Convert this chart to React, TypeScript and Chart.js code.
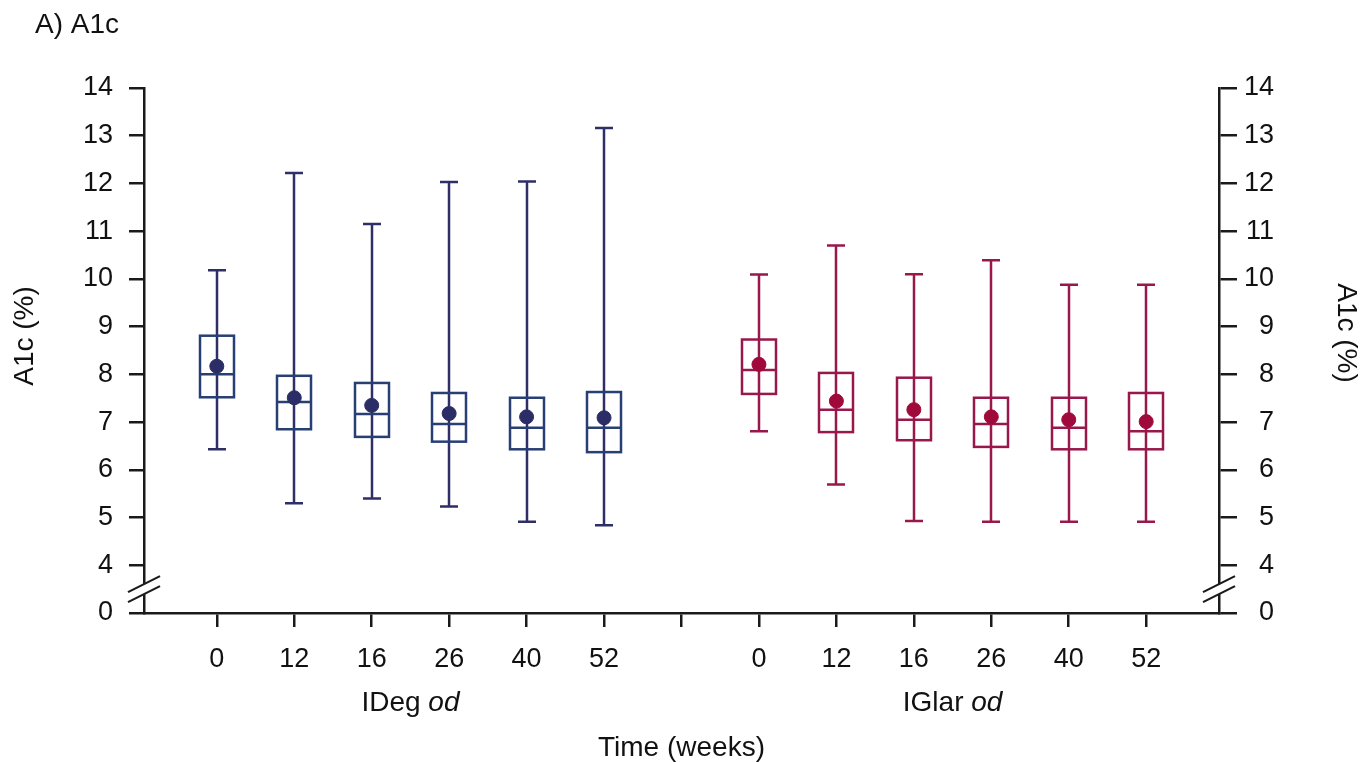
import React, { useEffect, useRef } from 'react';
import { Chart, registerables } from 'chart.js';

Chart.register(...registerables);

// ---------- data ----------
const weeks = ['0', '12', '16', '26', '40', '52'];
const groupNames = ['IDeg', 'IGlar'];
const groupSuffix = 'od';

const idegMean = [8.17, 7.51, 7.35, 7.18, 7.11, 7.09];
const idegMin = [6.43, 5.3, 5.4, 5.23, 4.91, 4.84];
const idegQ1 = [7.52, 6.85, 6.69, 6.59, 6.43, 6.37];
const idegMedian = [8.0, 7.42, 7.17, 6.96, 6.88, 6.88];
const idegQ3 = [8.81, 7.97, 7.82, 7.61, 7.51, 7.63];
const idegMax = [10.18, 12.22, 11.15, 12.03, 12.04, 13.16];

const iglarMean = [8.21, 7.44, 7.26, 7.11, 7.05, 7.01];
const iglarMin = [6.81, 5.69, 4.93, 4.91, 4.91, 4.91];
const iglarQ1 = [7.59, 6.79, 6.62, 6.48, 6.43, 6.43];
const iglarMedian = [8.09, 7.26, 7.05, 6.96, 6.88, 6.81];
const iglarQ3 = [8.73, 8.03, 7.93, 7.51, 7.51, 7.61];
const iglarMax = [10.09, 10.7, 10.1, 10.39, 9.88, 9.88];

// y axis: broken axis, the bottom tick (3) is labelled "0"
const yTickValues = [3, 4, 5, 6, 7, 8, 9, 10, 11, 12, 13, 14];
const yBreakLabel = '0';
const yMin = 3;
const yMax = 14;

// x positions: group 1 at 0..5, empty slot at 6, group 2 at 7..12
const xLabels = [...weeks, '', ...weeks];
const xPositions = xLabels.map((_, i) => i);
const idegX = weeks.map((_, i) => i);
const iglarX = weeks.map((_, i) => i + 7);

const FONT = "'Liberation Sans', Arial, Helvetica, sans-serif";
const AXIS = '#1a1a1a';
const TEXT = '#111111';
const NAVY_LINE = '#2d2f66';
const NAVY_BOX = '#283f74';
const NAVY_DOT = '#2b2d66';
const RED_LINE = '#98184c';
const RED_BOX = '#98184c';
const RED_DOT = '#a00a3a';

type Stats = { x: number[]; min: number[]; q1: number[]; med: number[]; q3: number[]; max: number[]; line: string; box: string };

const groupStats: Stats[] = [
  { x: idegX, min: idegMin, q1: idegQ1, med: idegMedian, q3: idegQ3, max: idegMax, line: NAVY_LINE, box: NAVY_BOX },
  { x: iglarX, min: iglarMin, q1: iglarQ1, med: iglarMedian, q3: iglarQ3, max: iglarMax, line: RED_LINE, box: RED_BOX },
];

const boxPlugin = {
  id: 'boxWhisker',
  beforeDatasetsDraw(chart: any) {
    const { ctx, scales } = chart;
    const xs = scales.x;
    const ys = scales.y;
    const halfBox = 17;
    const halfCap = 9;
    ctx.save();
    ctx.lineWidth = 2.5;
    groupStats.forEach((g) => {
      g.x.forEach((xv, i) => {
        const px = Math.round(xs.getPixelForValue(xv));
        const pMin = ys.getPixelForValue(g.min[i]);
        const pMax = ys.getPixelForValue(g.max[i]);
        const pQ1 = ys.getPixelForValue(g.q1[i]);
        const pQ3 = ys.getPixelForValue(g.q3[i]);
        const pMed = ys.getPixelForValue(g.med[i]);
        ctx.strokeStyle = g.line;
        ctx.beginPath();
        ctx.moveTo(px, pMin);
        ctx.lineTo(px, pMax);
        ctx.moveTo(px - halfCap, pMin);
        ctx.lineTo(px + halfCap, pMin);
        ctx.moveTo(px - halfCap, pMax);
        ctx.lineTo(px + halfCap, pMax);
        ctx.stroke();
        ctx.strokeStyle = g.box;
        ctx.strokeRect(px - halfBox, pQ3, halfBox * 2, pQ1 - pQ3);
        ctx.beginPath();
        ctx.moveTo(px - halfBox, pMed);
        ctx.lineTo(px + halfBox, pMed);
        ctx.stroke();
      });
    });
    ctx.restore();
  },
  afterDraw(chart: any) {
    const { ctx, scales, chartArea } = chart;
    const xs = scales.x;
    const ys = scales.y;
    ctx.save();
    // axis breaks
    const yb = ys.getPixelForValue((yTickValues[0] + yTickValues[1]) / 2);
    [chartArea.left, chartArea.right].forEach((ax) => {
      ctx.fillStyle = '#ffffff';
      ctx.fillRect(ax - 3, yb - 5, 6, 10);
      ctx.strokeStyle = AXIS;
      ctx.lineWidth = 2.2;
      [-5, 5].forEach((d) => {
        ctx.beginPath();
        ctx.moveTo(ax - 16, yb + d + 8);
        ctx.lineTo(ax + 16, yb + d - 8);
        ctx.stroke();
      });
    });

    ctx.fillStyle = TEXT;
    ctx.textBaseline = 'alphabetic';
    // panel title
    ctx.font = `28px ${FONT}`;
    ctx.textAlign = 'left';
    ctx.fillText('A) A1c', 35, 33);

    // y axis titles
    ctx.textAlign = 'center';
    ctx.textBaseline = 'middle';
    ctx.save();
    ctx.translate(25, 336);
    ctx.rotate(-Math.PI / 2);
    ctx.fillText('A1c (%)', 0, 0);
    ctx.restore();
    ctx.save();
    ctx.translate(1346, 333);
    ctx.rotate(Math.PI / 2);
    ctx.fillText('A1c (%)', 0, 0);
    ctx.restore();

    // group labels
    ctx.textBaseline = 'alphabetic';
    ctx.textAlign = 'left';
    const groupXs = [idegX, iglarX];
    groupNames.forEach((name, gi) => {
      const xArr = groupXs[gi];
      const cx = (xs.getPixelForValue(xArr[0]) + xs.getPixelForValue(xArr[xArr.length - 1])) / 2;
      ctx.font = `28px ${FONT}`;
      const w1 = ctx.measureText(name + ' ').width;
      ctx.font = `italic 28px ${FONT}`;
      const w2 = ctx.measureText(groupSuffix).width;
      const start = cx - (w1 + w2) / 2;
      ctx.font = `28px ${FONT}`;
      ctx.fillText(name + ' ', start, 711);
      ctx.font = `italic 28px ${FONT}`;
      ctx.fillText(groupSuffix, start + w1, 711);
    });

    // x axis title
    ctx.font = `28px ${FONT}`;
    ctx.textAlign = 'center';
    ctx.fillText('Time (weeks)', (xs.getPixelForValue(0) + xs.getPixelForValue(12)) / 2, 756);
    ctx.restore();
  },
};

export default function App() {
  const ref = useRef<HTMLCanvasElement | null>(null);

  useEffect(() => {
    if (!ref.current) return;
    const yTickCb = (v: any) => (v === yTickValues[0] ? yBreakLabel : String(v));
    const chart = new Chart(ref.current, {
      type: 'scatter',
      data: {
        datasets: [
          {
            label: 'IDeg mean',
            data: idegX.map((x, i) => ({ x, y: idegMean[i] })),
            backgroundColor: NAVY_DOT,
            borderColor: NAVY_DOT,
            pointRadius: 7,
            pointHoverRadius: 7,
          },
          {
            label: 'IGlar mean',
            data: iglarX.map((x, i) => ({ x, y: iglarMean[i] })),
            backgroundColor: RED_DOT,
            borderColor: RED_DOT,
            pointRadius: 7,
            pointHoverRadius: 7,
          },
        ],
      },
      options: {
        animation: false,
        responsive: false,
        maintainAspectRatio: false,
        layout: { padding: { left: 0, top: 88, right: 98, bottom: 0 } },
        plugins: { legend: { display: false }, tooltip: { enabled: false } },
        scales: {
          x: {
            type: 'linear',
            min: -0.94,
            max: 12.94,
            afterBuildTicks: (s: any) => {
              s.ticks = xPositions.map((v) => ({ value: v }));
            },
            afterFit: (s: any) => {
              s.height = 149;
            },
            ticks: {
              autoSkip: false,
              maxRotation: 0,
              padding: 16,
              color: TEXT,
              font: { family: FONT, size: 27 },
              callback: (v: any) => xLabels[Math.round(Number(v))] ?? '',
            },
            grid: { drawOnChartArea: false, drawTicks: true, tickLength: 14, color: AXIS, lineWidth: 2.5 },
            border: { display: true, color: AXIS, width: 2.5 },
          },
          y: {
            type: 'linear',
            position: 'left',
            min: yMin,
            max: yMax,
            afterBuildTicks: (s: any) => {
              s.ticks = yTickValues.map((v) => ({ value: v }));
            },
            afterFit: (s: any) => {
              s.width = 144;
            },
            ticks: {
              padding: 16,
              color: TEXT,
              font: { family: FONT, size: 27 },
              callback: yTickCb,
            },
            grid: { drawOnChartArea: false, drawTicks: true, tickLength: 15, color: AXIS, lineWidth: 2.5 },
            border: { display: true, color: AXIS, width: 2.5 },
          },
          y2: {
            type: 'linear',
            position: 'right',
            min: yMin,
            max: yMax,
            afterBuildTicks: (s: any) => {
              s.ticks = yTickValues.map((v) => ({ value: v }));
            },
            afterFit: (s: any) => {
              s.width = 55;
            },
            ticks: {
              padding: 6,
              crossAlign: 'far',
              color: TEXT,
              font: { family: FONT, size: 27 },
              callback: yTickCb,
            },
            grid: { drawOnChartArea: false, drawTicks: true, tickLength: 18, color: AXIS, lineWidth: 2.5 },
            border: { display: true, color: AXIS, width: 2.5 },
          },
        },
      },
      plugins: [boxPlugin],
    } as any);
    return () => chart.destroy();
  }, []);

  return (
    <div style={{ position: 'fixed', left: 0, top: 0, width: 1372, height: 762, background: '#fff' }}>
      <canvas ref={ref} width={1372} height={762} style={{ display: 'block', width: 1372, height: 762 }} />
    </div>
  );
}
